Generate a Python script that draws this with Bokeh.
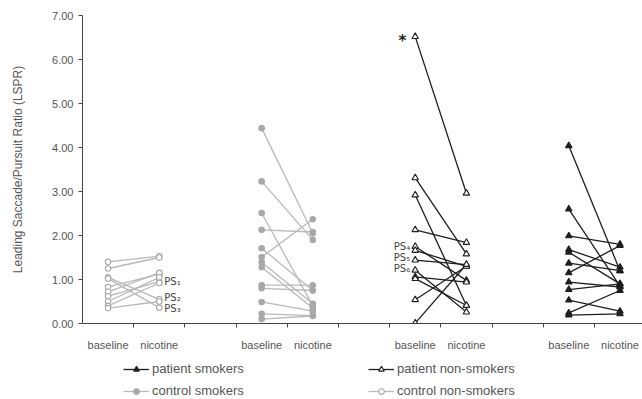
from bokeh.plotting import figure
from bokeh.layouts import column
from bokeh.models import (Range1d, FixedTicker, NumeralTickFormatter, Legend, LegendItem,
                          ColumnDataSource)
from bokeh.core.properties import value
from bokeh.embed import file_html
from bokeh.resources import INLINE

# ---- data ----
categories = ["baseline", "nicotine"]
groups = ["control non-smokers", "control smokers", "patient non-smokers", "patient smokers"]

cns_base = [1.40, 1.25, 1.05, 1.02, 0.83, 0.72, 0.62, 0.50, 0.40, 0.35]
cns_nic = [1.53, 1.50, 0.55, 0.36, 1.12, 1.15, 0.95, 1.05, 0.92, 0.50]

cs_base = [4.44, 3.23, 2.51, 2.13, 1.71, 1.51, 1.39, 1.28, 0.87, 0.80, 0.49, 0.22, 0.10]
cs_nic = [2.05, 1.90, 0.40, 2.08, 0.75, 2.37, 0.45, 0.35, 0.87, 0.75, 0.28, 0.18, 0.17]

pns_base = [6.52, 3.31, 2.92, 2.13, 1.75, 1.66, 1.44, 1.21, 1.06, 1.02, 0.54, 0.01]
pns_nic = [2.96, 1.58, 0.41, 1.84, 0.98, 1.30, 1.34, 0.26, 0.94, 0.41, 1.30, 1.34]

ps_base = [4.04, 2.60, 1.99, 1.68, 1.62, 1.37, 1.15, 0.94, 0.77, 0.53, 0.24, 0.19]
ps_nic = [1.20, 0.85, 1.80, 1.28, 0.90, 1.20, 1.77, 0.83, 0.90, 0.28, 0.75, 0.22]

ps_labels_left = ["PS\u2081", "PS\u2082", "PS\u2083"]
ps_labels_left_y = [0.95, 0.58, 0.33]
ps_labels_right = ["PS\u2084", "PS\u2085", "PS\u2086"]
ps_labels_right_y = [1.74, 1.51, 1.24]
star_y = [6.52]

y_ticks = [0, 1, 2, 3, 4, 5, 6, 7]
legend_col1 = ["patient smokers", "control smokers"]
legend_col2 = ["patient non-smokers", "control non-smokers"]

# ---- styles ----
GREY = "#b9b9b9"
GREY_M = "#a8a8a8"
BLACK = "#1e1e1e"
TXT = "#555555"
FONT = "Liberation Sans"

p = figure(width=642, height=353, output_backend="svg", toolbar_location=None,
           x_range=Range1d(0, 10.94), y_range=Range1d(0, 7.0),
           min_border_left=82, min_border_top=15, min_border_right=0, min_border_bottom=28)
p.outline_line_color = None
p.grid.grid_line_color = None
p.background_fill_color = "white"

# group x positions: group g -> baseline at 3g+0.5, nicotine at 3g+1.5
centers = []
labels = {}
for g in range(4):
    for k, c in enumerate(categories):
        pos = 3 * g + 0.5 + k
        centers.append(pos)
        labels[pos] = c
bounds = [float(i) for i in range(1, 11)]

series = [
    (cns_base, cns_nic, 0, GREY, "circle", "white", GREY_M, "control non-smokers"),
    (cs_base, cs_nic, 1, GREY, "circle", GREY_M, GREY_M, "control smokers"),
    (pns_base, pns_nic, 2, BLACK, "triangle", "white", BLACK, "patient non-smokers"),
    (ps_base, ps_nic, 3, BLACK, "triangle", BLACK, BLACK, "patient smokers"),
]

# legend strip below the chart (its y range keeps the proxy glyphs out of view)
p2 = figure(width=642, height=46, output_backend="svg", toolbar_location=None,
            x_range=Range1d(0, 10.94), y_range=Range1d(100, 101),
            x_axis_location=None, y_axis_location=None,
            min_border_left=82, min_border_right=0, min_border_top=0, min_border_bottom=0)
p2.outline_line_color = None
p2.grid.grid_line_color = None

legend_refs = {}
for base, nic, g, lc, marker, fc, mc, name in series:
    xb = [3 * g + 0.5] * len(base)
    xn = [3 * g + 1.5] * len(nic)
    src = ColumnDataSource(dict(x0=xb, y0=base, x1=xn, y1=nic))
    p.segment("x0", "y0", "x1", "y1", source=src, line_color=lc, line_width=1.3)
    size = 5.5 if marker == "circle" else 6.5
    p.scatter(xb, base, marker=marker, size=size, fill_color=fc, line_color=mc, line_width=1.1)
    p.scatter(xn, nic, marker=marker, size=size, fill_color=fc, line_color=mc, line_width=1.1)
    lr = p2.line(xb, base, line_color=lc, line_width=1.3)
    mr = p2.scatter(xb, base, marker=marker, size=size + 1, fill_color=fc, line_color=mc, line_width=1.1)
    legend_refs[name] = [lr, mr]

# PS annotations
p.text([1.5] * 3, ps_labels_left_y, text=ps_labels_left, x_offset=5, text_align="left",
       text_baseline="middle", text_font=value("DejaVu Sans"), text_font_size="10px",
       text_color="#444444")
p.text([6.5] * 3, ps_labels_right_y, text=ps_labels_right, x_offset=-5, text_align="right",
       text_baseline="middle", text_font=value("DejaVu Sans"), text_font_size="10px",
       text_color="#444444")
p.text([6.5], star_y, text=["*"], x_offset=-9, y_offset=4, text_align="right",
       text_baseline="middle", text_font=value("DejaVu Sans"), text_font_size="15px",
       text_font_style="bold", text_color=BLACK)

# axes
xa = p.xaxis[0]
xa.ticker = FixedTicker(ticks=centers, minor_ticks=bounds)
xa.major_label_overrides = labels
xa.major_tick_out = 0
xa.major_tick_in = 0
xa.minor_tick_out = 4
xa.minor_tick_in = 0
xa.minor_tick_line_color = "#444444"
xa.axis_line_color = "#444444"
xa.major_label_text_font = FONT
xa.major_label_text_font_size = "11px"
xa.major_label_text_color = TXT
xa.major_label_standoff = 11

ya = p.yaxis[0]
ya.ticker = FixedTicker(ticks=y_ticks)
ya.formatter = NumeralTickFormatter(format="0.00")
ya.major_tick_out = 4
ya.major_tick_in = 0
ya.minor_tick_out = 0
ya.minor_tick_in = 0
ya.axis_line_color = "#444444"
ya.major_tick_line_color = "#444444"
ya.major_label_text_font = FONT
ya.major_label_text_font_size = "11px"
ya.major_label_text_color = TXT
ya.major_label_standoff = 5
ya.axis_label = "Leading Saccade/Pursuit Ratio (LSPR)"
ya.axis_label_text_font = FONT
ya.axis_label_text_font_size = "12px"
ya.axis_label_text_font_style = "normal"
ya.axis_label_text_color = TXT
ya.axis_label_standoff = 24


def make_legend(names, vx):
    lg = Legend(items=[LegendItem(label=n, renderers=legend_refs[n]) for n in names],
                location=(vx, 1), orientation="vertical",
                label_text_font=FONT, label_text_font_size="13px", label_text_color=TXT,
                glyph_width=26, glyph_height=14, label_height=14, spacing=7,
                label_standoff=3, padding=0, margin=0,
                border_line_color=None, background_fill_alpha=0)
    p2.add_layout(lg, "center")


make_legend(legend_col1, 41)
make_legend(legend_col2, 286)

open("out.html", "w").write(file_html(column(p, p2, spacing=0), INLINE))
